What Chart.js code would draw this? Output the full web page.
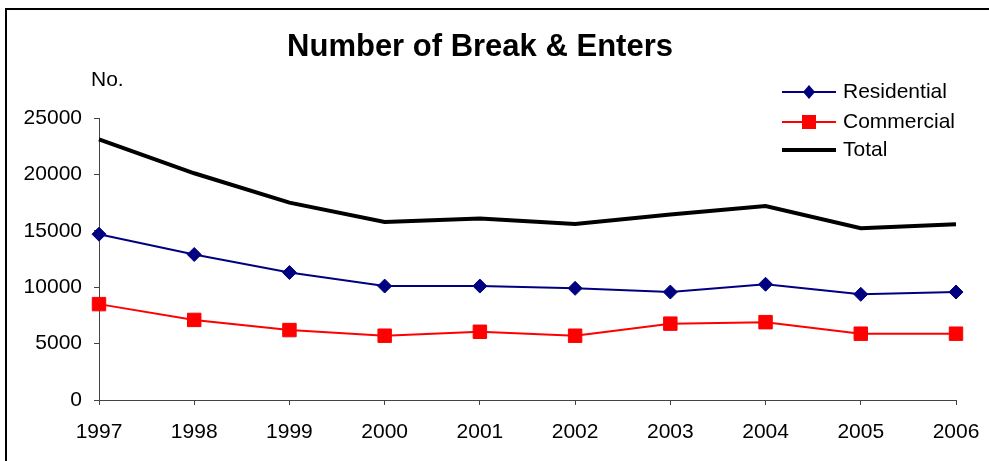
<!DOCTYPE html>
<html>
<head>
    <title>Number of Break & Enters</title>
    <script src="https://cdn.jsdelivr.net/npm/chart.js"></script>
    <style>
        body { margin: 0; background: #fff; }
        canvas { display: block; }
    </style>
</head>
<body>
    <canvas id="beChart" width="989" height="461"></canvas>

    <script>
        const years = ['1997', '1998', '1999', '2000', '2001', '2002', '2003', '2004', '2005', '2006'];
        const residential = [14700, 12900, 11300, 10100, 10100, 9900, 9570, 10260, 9370, 9570];
        const commercial = [8500, 7100, 6200, 5700, 6050, 5700, 6770, 6900, 5880, 5880];
        const total = [23100, 20100, 17500, 15780, 16100, 15600, 16450, 17200, 15220, 15580];
        const yTicks = [0, 5000, 10000, 15000, 20000, 25000];

        const FONT = 'Arial, "Liberation Sans", sans-serif';

        // frame, title, axis caption and legend drawn by hand
        const decorations = {
            id: 'decorations',
            afterDraw(chart) {
                const ctx = chart.ctx;
                ctx.save();
                ctx.strokeStyle = '#000';
                ctx.lineWidth = 2;
                ctx.strokeRect(6, 9, 1000, 470);

                ctx.fillStyle = '#000';
                ctx.textBaseline = 'middle';
                ctx.textAlign = 'center';
                ctx.font = 'bold 31px ' + FONT;
                ctx.fillText('Number of Break & Enters', 480, 47);

                ctx.textAlign = 'left';
                ctx.font = '21px ' + FONT;
                ctx.fillText('No.', 91, 80);

                const rows = [
                    { label: 'Residential', color: '#000080', width: 2, marker: 'diamond', y: 92 },
                    { label: 'Commercial', color: '#FF0000', width: 2, marker: 'square', y: 122 },
                    { label: 'Total', color: '#000000', width: 4, marker: null, y: 150 }
                ];
                rows.forEach(r => {
                    ctx.strokeStyle = r.color;
                    ctx.lineWidth = r.width;
                    ctx.beginPath();
                    ctx.moveTo(782, r.y);
                    ctx.lineTo(836, r.y);
                    ctx.stroke();
                    ctx.fillStyle = r.color;
                    if (r.marker === 'diamond') {
                        ctx.beginPath();
                        ctx.moveTo(809 - 6, r.y);
                        ctx.lineTo(809, r.y - 7);
                        ctx.lineTo(809 + 6, r.y);
                        ctx.lineTo(809, r.y + 7);
                        ctx.closePath();
                        ctx.fill();
                    } else if (r.marker === 'square') {
                        ctx.fillRect(809 - 7, r.y - 7, 14, 14);
                    }
                    ctx.fillStyle = '#000';
                    ctx.fillText(r.label, 843, r.y);
                });
                ctx.restore();
            }
        };

        const ctx = document.getElementById('beChart').getContext('2d');
        new Chart(ctx, {
            type: 'line',
            data: {
                labels: years,
                datasets: [
                    {
                        label: 'Residential',
                        data: residential,
                        borderColor: '#000080',
                        backgroundColor: '#000080',
                        borderWidth: 2,
                        pointStyle: 'rectRot',
                        pointRadius: 7,
                        pointBorderWidth: 1,
                        tension: 0
                    },
                    {
                        label: 'Commercial',
                        data: commercial,
                        borderColor: '#FF0000',
                        backgroundColor: '#FF0000',
                        borderWidth: 2,
                        pointStyle: 'rect',
                        pointRadius: 9.5,
                        pointBorderWidth: 1,
                        tension: 0
                    },
                    {
                        label: 'Total',
                        data: total,
                        borderColor: '#000000',
                        backgroundColor: '#000000',
                        borderWidth: 4,
                        pointRadius: 0,
                        tension: 0
                    }
                ]
            },
            options: {
                responsive: false,
                animation: false,
                layout: { padding: { top: 118, right: 33, left: 0, bottom: 0 } },
                plugins: {
                    legend: { display: false },
                    title: { display: false },
                    tooltip: { enabled: false }
                },
                scales: {
                    x: {
                        offset: false,
                        grid: { drawOnChartArea: false, tickLength: 5, color: '#444' },
                        border: { color: '#444', width: 1 },
                        ticks: { color: '#000', font: { size: 21, family: FONT }, padding: 15, maxRotation: 0, autoSkip: false },
                        afterFit(scale) {
                            scale.height = 61;
                            scale.paddingLeft = 0;
                            scale.paddingRight = 0;
                        }
                    },
                    y: {
                        min: 0,
                        max: 25000,
                        afterBuildTicks(scale) { scale.ticks = yTicks.map(v => ({ value: v })); },
                        grid: { drawOnChartArea: false, tickLength: 5, color: '#444' },
                        border: { color: '#444', width: 1 },
                        ticks: {
                            color: '#000',
                            font: { size: 21, family: FONT },
                            padding: 12,
                            callback: v => String(v)
                        },
                        afterFit(scale) { scale.width = 99; }
                    }
                }
            },
            plugins: [decorations]
        });
    </script>
</body>
</html>
